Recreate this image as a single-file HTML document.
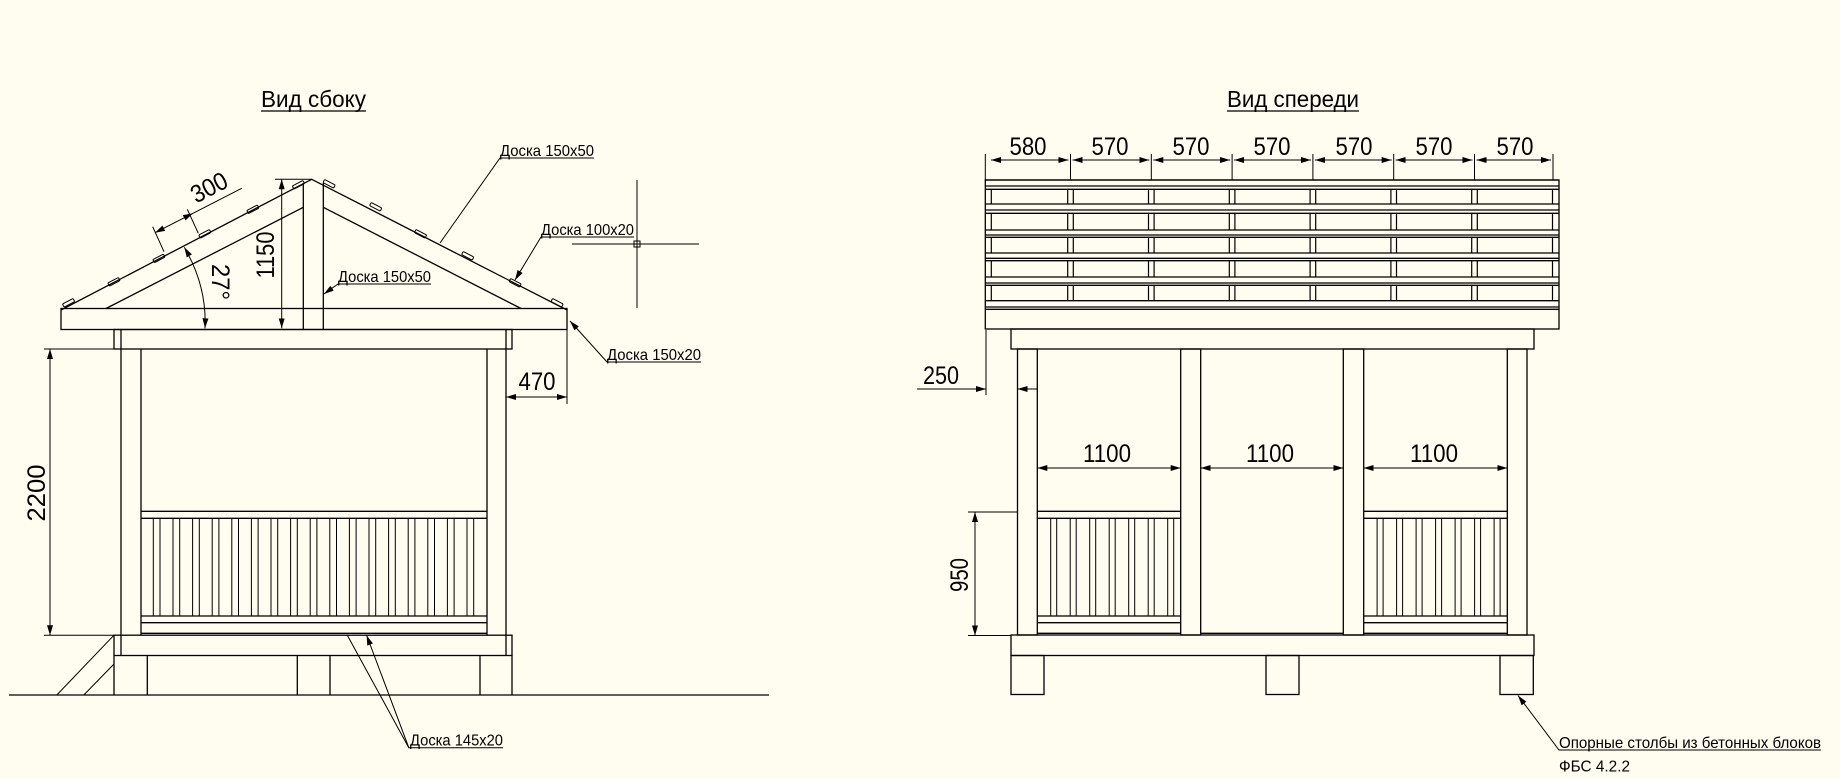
<!DOCTYPE html>
<html><head><meta charset="utf-8"><style>
html,body{margin:0;padding:0;background:#fffcf0;}
svg{display:block;}
text{font-family:"Liberation Sans",sans-serif;fill:#000;}
</style></head><body>
<svg width="1840" height="779" viewBox="0 0 1840 779" xmlns="http://www.w3.org/2000/svg">
<defs>
<marker id="a" viewBox="0 0 10 6" refX="10" refY="3" markerWidth="10" markerHeight="6" markerUnits="userSpaceOnUse" orient="auto-start-reverse"><path d="M0,0L10,3L0,6z" fill="#000"/></marker>
</defs>
<rect width="1840" height="779" fill="#fffcf0"/>
<g stroke="#000" stroke-width="1.3" fill="none">
<!-- ===== SIDE VIEW ===== -->
<!-- eave board -->
<rect x="61" y="308.5" width="506" height="21"/>
<!-- roof outer -->
<polyline points="61,310 311.7,179.3 567,310"/>
<!-- roof inner -->
<line x1="106" y1="308.5" x2="303.3" y2="207.3"/>
<line x1="323.3" y1="207.3" x2="521" y2="308.5"/>
<!-- king post -->
<line x1="303.3" y1="183" x2="303.3" y2="329.5"/>
<line x1="323.3" y1="183" x2="323.3" y2="329.5"/>
<!-- top beam -->
<rect x="114" y="329.5" width="398" height="19.5"/>
<line x1="121" y1="329.5" x2="121" y2="349"/>
<line x1="506" y1="329.5" x2="506" y2="349"/>
<!-- posts -->
<line x1="121" y1="349" x2="121" y2="655.5"/>
<line x1="141" y1="349" x2="141" y2="635.2"/>
<line x1="487" y1="349" x2="487" y2="635.2"/>
<line x1="506" y1="349" x2="506" y2="655.5"/>
<!-- railing -->
<line x1="141" y1="511.3" x2="487" y2="511.3"/>
<line x1="141" y1="518.3" x2="487" y2="518.3"/>
<line x1="141" y1="616" x2="487" y2="616"/>
<line x1="141" y1="622.7" x2="487" y2="622.7"/>
<line x1="141" y1="633.3" x2="487" y2="633.3"/>
<path stroke-width="1" d="M153.3,518.3V616M160,518.3V616M173,518.3V616M179.7,518.3V616M192.6,518.3V616M199.3,518.3V616M212.2,518.3V616M218.9,518.3V616M231.8,518.3V616M238.5,518.3V616M251.4,518.3V616M258.1,518.3V616M271,518.3V616M277.7,518.3V616M290.6,518.3V616M297.3,518.3V616M310.2,518.3V616M316.9,518.3V616M329.8,518.3V616M336.5,518.3V616M349.4,518.3V616M356.1,518.3V616M369,518.3V616M375.7,518.3V616M388.6,518.3V616M395.3,518.3V616M408.2,518.3V616M414.9,518.3V616M427.8,518.3V616M434.5,518.3V616M447.4,518.3V616M454.1,518.3V616M467,518.3V616M473.7,518.3V616"/>
<!-- floor beam -->
<rect x="114" y="635.2" width="398" height="20.3"/>
<!-- foundation -->
<path d="M114,655.5V695M147.3,655.5V695M297.3,655.5V695M330,655.5V695M480,655.5V695M512,655.5V695"/>
<line x1="9" y1="695" x2="769" y2="695"/>
<line x1="56.8" y1="695" x2="114" y2="635.2" stroke-width="1"/>
<line x1="83.8" y1="695" x2="114" y2="664" stroke-width="1"/>
<!-- roof tiles -->
<g stroke-width="1">
<g transform="rotate(-27.6 68.7 303)"><rect x="62.7" y="301" width="12" height="3.5" rx="1"/></g>
<g transform="rotate(-27.6 114 282)"><rect x="108" y="280" width="12" height="3.5" rx="1"/></g>
<g transform="rotate(-27.6 159 258.6)"><rect x="153" y="256.6" width="12" height="3.5" rx="1"/></g>
<g transform="rotate(-27.6 205 234)"><rect x="199" y="232" width="12" height="3.5" rx="1"/></g>
<g transform="rotate(-27.6 253 209.5)"><rect x="247" y="207.5" width="12" height="3.5" rx="1"/></g>
<g transform="rotate(-27.6 298.5 185)"><rect x="292.5" y="183" width="12" height="3.5" rx="1"/></g>
<g transform="rotate(27.6 329 184)"><rect x="323" y="182" width="12" height="3.5" rx="1"/></g>
<g transform="rotate(27.6 375.6 207)"><rect x="369.6" y="205" width="12" height="3.5" rx="1"/></g>
<g transform="rotate(27.6 420.4 234)"><rect x="414.4" y="232" width="12" height="3.5" rx="1"/></g>
<g transform="rotate(27.6 467.6 256)"><rect x="461.6" y="254" width="12" height="3.5" rx="1"/></g>
<g transform="rotate(27.6 515 283)"><rect x="509" y="281" width="12" height="3.5" rx="1"/></g>
<g transform="rotate(27.6 557 303)"><rect x="551" y="301" width="12" height="3.5" rx="1"/></g>
</g>
<!-- dims side -->
<g stroke-width="1">
<line x1="44" y1="349" x2="121" y2="349"/>
<line x1="44" y1="635.2" x2="114" y2="635.2"/>
<line x1="50" y1="349" x2="50" y2="635.2" marker-start="url(#a)" marker-end="url(#a)"/>
<line x1="275" y1="179.3" x2="311.7" y2="179.3"/>
<line x1="281.7" y1="179.3" x2="281.7" y2="328.3" marker-start="url(#a)" marker-end="url(#a)"/>
<line x1="152.7" y1="226.7" x2="164" y2="251.7"/>
<line x1="187.3" y1="209.3" x2="198.3" y2="233.3"/>
<line x1="155" y1="232.7" x2="193" y2="213.3" marker-start="url(#a)" marker-end="url(#a)"/>
<line x1="193" y1="213.3" x2="241.7" y2="188.3"/>
<path d="M184.3,247.3Q207,286 205,328.3" marker-start="url(#a)" marker-end="url(#a)"/>
<line x1="567" y1="330" x2="567" y2="404"/>
<line x1="506" y1="397" x2="567" y2="397" marker-start="url(#a)" marker-end="url(#a)"/>
<!-- leaders -->
<polyline points="594,158 500,158 440,243"/>
<polyline points="634,237 541,237 515,280" marker-end="url(#a)"/>
<polyline points="431,284 338,284 324,294" marker-end="url(#a)"/>
<polyline points="701,362 607,362 570,321" marker-end="url(#a)"/>
<polyline points="503,747.7 408.8,747.7 347.3,635.2"/>
<line x1="408.8" y1="747.7" x2="366.6" y2="635.2" marker-end="url(#a)"/>
<!-- crosshair -->
<line x1="637" y1="180" x2="637" y2="308"/>
<line x1="572" y1="244" x2="699" y2="244"/>
<rect x="634" y="241" width="6" height="6"/>
</g>
<!-- title underlines -->
<line x1="261" y1="111" x2="366" y2="111"/>
<line x1="1227" y1="111" x2="1359" y2="111"/>

<!-- ===== FRONT VIEW ===== -->
<!-- roof -->
<path d="M985.3,180H1559M985.3,186H1559M985.3,189.3H1559M985.3,204H1559M985.3,210H1559M985.3,213.3H1559M985.3,230H1559M985.3,235H1559M985.3,237.3H1559M985.3,253H1559M985.3,258.3H1559M985.3,260.7H1559M985.3,277H1559M985.3,283H1559M985.3,285.3H1559M985.3,300.7H1559M985.3,307H1559M985.3,309.3H1559"/>
<rect x="985.3" y="180" width="573.7" height="149"/>
<g stroke-width="1.2">
<path d="M991.3,189.3V204M991.3,213.3V230M991.3,237.3V253M991.3,260.7V277M991.3,285.3V300.7"/>
<path d="M1552.5,189.3V204M1552.5,213.3V230M1552.5,237.3V253M1552.5,260.7V277M1552.5,285.3V300.7"/>
<g id="c1"><path d="M1067.7,189.3V204M1073.3,189.3V204M1067.7,213.3V230M1073.3,213.3V230M1067.7,237.3V253M1073.3,237.3V253M1067.7,260.7V277M1073.3,260.7V277M1067.7,285.3V300.7M1073.3,285.3V300.7"/></g>
<use href="#c1" x="80.8"/>
<use href="#c1" x="161.6"/>
<use href="#c1" x="242.4"/>
<use href="#c1" x="323.2"/>
<use href="#c1" x="404"/>
</g>
<!-- top beam -->
<rect x="1011" y="329" width="523" height="20"/>
<!-- posts -->
<rect x="1017.5" y="349" width="19.8" height="286"/>
<rect x="1180.7" y="349" width="20" height="286"/>
<rect x="1343.3" y="349" width="20.4" height="286"/>
<rect x="1507.3" y="349" width="19.7" height="286"/>
<!-- railings -->
<g id="rl">
<path d="M1037.3,511.3H1180.7M1037.3,518.3H1180.7M1037.3,616H1180.7M1037.3,622.7H1180.7M1037.3,633.3H1180.7"/>
<path stroke-width="1" d="M1050.7,518.3V616M1056.7,518.3V616M1070.2,518.3V616M1076.2,518.3V616M1089.7,518.3V616M1095.7,518.3V616M1109.2,518.3V616M1115.2,518.3V616M1128.7,518.3V616M1134.7,518.3V616M1148.2,518.3V616M1154.2,518.3V616M1167.7,518.3V616M1173.7,518.3V616"/>
</g>
<use href="#rl" x="326.4"/>
<line x1="1200.7" y1="633.3" x2="1343.3" y2="633.3"/>
<!-- floor beam and footings -->
<rect x="1011" y="635" width="523" height="20.5"/>
<rect x="1011" y="655.5" width="33" height="39"/>
<rect x="1266" y="655.5" width="33" height="39"/>
<rect x="1500" y="655.5" width="33.3" height="39"/>
<!-- dims front -->
<g stroke-width="1">
<path d="M985.3,154V180M1070.5,154V180M1151.3,154V180M1232.1,154V180M1312.9,154V180M1393.7,154V180M1474.5,154V180M1553,154V180"/>
<line x1="991" y1="160" x2="1068.5" y2="160" marker-start="url(#a)" marker-end="url(#a)"/>
<line x1="1072.5" y1="160" x2="1149.3" y2="160" marker-start="url(#a)" marker-end="url(#a)"/>
<line x1="1153.3" y1="160" x2="1230.1" y2="160" marker-start="url(#a)" marker-end="url(#a)"/>
<line x1="1234.1" y1="160" x2="1310.9" y2="160" marker-start="url(#a)" marker-end="url(#a)"/>
<line x1="1314.9" y1="160" x2="1391.7" y2="160" marker-start="url(#a)" marker-end="url(#a)"/>
<line x1="1395.7" y1="160" x2="1472.5" y2="160" marker-start="url(#a)" marker-end="url(#a)"/>
<line x1="1476.5" y1="160" x2="1551" y2="160" marker-start="url(#a)" marker-end="url(#a)"/>
<line x1="1037.3" y1="468" x2="1180.7" y2="468" marker-start="url(#a)" marker-end="url(#a)"/>
<line x1="1200.7" y1="468" x2="1343.3" y2="468" marker-start="url(#a)" marker-end="url(#a)"/>
<line x1="1363.7" y1="468" x2="1507.3" y2="468" marker-start="url(#a)" marker-end="url(#a)"/>
<line x1="986" y1="330" x2="986" y2="395"/>
<line x1="917" y1="389" x2="986" y2="389" marker-end="url(#a)"/>
<line x1="1037.3" y1="389" x2="1017.5" y2="389" marker-end="url(#a)"/>
<line x1="968" y1="512" x2="1017.5" y2="512"/>
<line x1="968" y1="635.5" x2="1011" y2="635.5"/>
<line x1="975" y1="512" x2="975" y2="635.5" marker-start="url(#a)" marker-end="url(#a)"/>
<polyline points="1821,750 1559,750 1518,695.5" marker-end="url(#a)"/>
</g>
</g>

<!-- ===== TEXT ===== -->
<text x="261" y="107" font-size="23" textLength="105" lengthAdjust="spacingAndGlyphs">Вид сбоку</text>
<text x="1227" y="107" font-size="23" textLength="132" lengthAdjust="spacingAndGlyphs">Вид спереди</text>
<g font-size="16">
<text x="500" y="156" textLength="94" lengthAdjust="spacingAndGlyphs">Доска 150х50</text>
<text x="541" y="235" textLength="93" lengthAdjust="spacingAndGlyphs">Доска 100х20</text>
<text x="338" y="282" textLength="93" lengthAdjust="spacingAndGlyphs">Доска 150х50</text>
<text x="607" y="360" textLength="94" lengthAdjust="spacingAndGlyphs">Доска 150х20</text>
<text x="410" y="745.5" textLength="93" lengthAdjust="spacingAndGlyphs">Доска 145х20</text>
<text x="1559" y="748" textLength="262" lengthAdjust="spacingAndGlyphs">Опорные столбы из бетонных блоков</text>
<text x="1559" y="771.5" textLength="71" lengthAdjust="spacingAndGlyphs">ФБС 4.2.2</text>
</g>
<g font-size="25" text-anchor="middle">
<text transform="translate(45 493) rotate(-90)" textLength="57" lengthAdjust="spacingAndGlyphs">2200</text>
<text transform="translate(274 255) rotate(-90)" textLength="47" lengthAdjust="spacingAndGlyphs">1150</text>
<text transform="translate(213 195) rotate(-27.6)" textLength="38" lengthAdjust="spacingAndGlyphs">300</text>
<text transform="translate(212 282) rotate(90)" textLength="36" lengthAdjust="spacingAndGlyphs">27°</text>
<text x="537" y="390" textLength="37" lengthAdjust="spacingAndGlyphs">470</text>
<text x="1028" y="155" textLength="37" lengthAdjust="spacingAndGlyphs">580</text>
<text x="1110" y="155" textLength="37" lengthAdjust="spacingAndGlyphs">570</text>
<text x="1191" y="155" textLength="37" lengthAdjust="spacingAndGlyphs">570</text>
<text x="1272" y="155" textLength="37" lengthAdjust="spacingAndGlyphs">570</text>
<text x="1354" y="155" textLength="37" lengthAdjust="spacingAndGlyphs">570</text>
<text x="1434" y="155" textLength="37" lengthAdjust="spacingAndGlyphs">570</text>
<text x="1515" y="155" textLength="37" lengthAdjust="spacingAndGlyphs">570</text>
<text x="1107" y="462" textLength="48" lengthAdjust="spacingAndGlyphs">1100</text>
<text x="1270" y="462" textLength="48" lengthAdjust="spacingAndGlyphs">1100</text>
<text x="1434" y="462" textLength="48" lengthAdjust="spacingAndGlyphs">1100</text>
<text x="941" y="384" textLength="36" lengthAdjust="spacingAndGlyphs">250</text>
<text transform="translate(968 575) rotate(-90)" textLength="34" lengthAdjust="spacingAndGlyphs">950</text>
</g>
</svg>
</body></html>
